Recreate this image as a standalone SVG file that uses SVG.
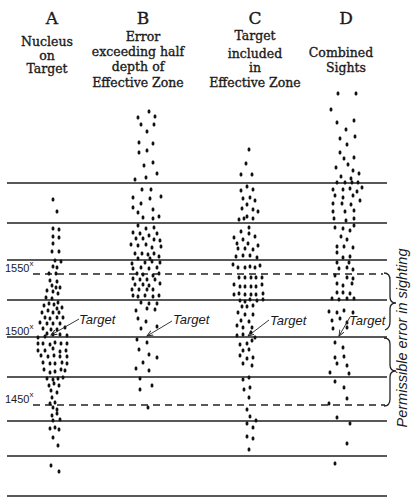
<svg xmlns="http://www.w3.org/2000/svg" width="415" height="500" viewBox="0 0 415 500">
<style>
.hd{font-family:"DejaVu Serif","Liberation Serif",serif;fill:#1a1a1a;stroke:#1a1a1a;stroke-width:0.35;text-anchor:middle}
.let{font-size:17px}
.cap{font-size:12.5px}
.num{font-family:"Liberation Sans",Arial,sans-serif;font-size:11px;fill:#1a1a1a}
.tg{font-family:"Liberation Sans",Arial,sans-serif;font-style:italic;font-size:13px;fill:#1a1a1a}
.ln{stroke:#222;stroke-width:1.3;fill:none}
.dl{stroke:#222;stroke-width:1.3;fill:none;stroke-dasharray:7 5}
.dots{stroke:#111;stroke-width:2.8;stroke-linecap:round;fill:none}
.ld{stroke:#222;stroke-width:0.9;fill:none}
</style>
<defs>
<marker id="ah" markerUnits="userSpaceOnUse" markerWidth="7" markerHeight="6" refX="6" refY="3" orient="auto"><path d="M0,0.5 L6,3 L0,5.5" fill="none" stroke="#222" stroke-width="0.9"/></marker>
</defs>
<rect width="415" height="500" fill="#fff"/>

<g id="headers">
<g id="head-A"><text class="hd let" x="52" y="24">A</text><text class="hd cap" x="47" y="46">Nucleus</text><text class="hd cap" x="47" y="59.5">on</text><text class="hd cap" x="47" y="73">Target</text></g>
<g id="head-B"><text class="hd let" x="143" y="24">B</text><text class="hd cap" x="143" y="41">Error</text><text class="hd cap" x="138" y="56">exceeding half</text><text class="hd cap" x="138" y="70.5">depth of</text><text class="hd cap" x="138" y="87">Effective Zone</text></g>
<g id="head-C"><text class="hd let" x="255" y="24">C</text><text class="hd cap" x="255" y="40">Target</text><text class="hd cap" x="255" y="57.5">included</text><text class="hd cap" x="255" y="72">in</text><text class="hd cap" x="255" y="87">Effective Zone</text></g>
<g id="head-D"><text class="hd let" x="346" y="24">D</text><text class="hd cap" x="341" y="57">Combined</text><text class="hd cap" x="346" y="72">Sights</text></g>
</g>

<g id="lines">
<path class="ln" d="M7 183H387M7 223H387M7 260H387M7 300H387M7 337H387M7 377H387M7 421H387M7 456H387M7 496H387"/>
<path class="dl" d="M33 274H383M33 405H385"/>
</g>

<g id="range-labels">
<text class="num" x="5" y="272">1550<tspan font-size="8" dy="-6">x</tspan></text>
<text class="num" x="5" y="335">1500<tspan font-size="8" dy="-6">x</tspan></text>
<text class="num" x="5" y="403">1450<tspan font-size="8" dy="-6">x</tspan></text>
</g>

<g id="column-A">
<path class="dots" d="M53 199v1.2M57 211v1.2M53 228v1.2M59 229v1.2M53 236v1.2M59 237v1.2M53 243v1.2M52 251v1.2M59 251v1.2M55 260v1.2M61 261v1.2M53 266v1.2M57 267v1.2M49 273v1.2M56 273v1.2M50 280v1.2M57 281v1.2M52 285v1.2M56 287v1.2M60 287v1.2M47 290v1.2M53 291v1.2M58 293v1.2M46 297v1.2M52 298v1.2M49 303v1.2M54 304v1.2M58 302v1.2M44 305v1.2M57 308v1.2M62 307v1.2M42 312v1.2M48 310v1.2M53 312v1.2M59 312v1.2M45 317v1.2M50 318v1.2M57 317v1.2M63 317v1.2M40 322v1.2M47 323v1.2M53 323v1.2M60 323v1.2M43 328v1.2M51 329v1.2M57 329v1.2M65 327v1.2M47 333v1.2M53 334v1.2M60 334v1.2M67 335v1.2M38 337v1.2M45 336v1.2M38 343v1.2M43 343v1.2M50 344v1.2M55 342v1.2M61 343v1.2M67 343v1.2M38 350v1.2M45 350v1.2M53 348v1.2M60 351v1.2M66 350v1.2M41 355v1.2M48 356v1.2M54 355v1.2M60 356v1.2M67 356v1.2M43 362v1.2M50 363v1.2M55 363v1.2M62 362v1.2M67 363v1.2M44 369v1.2M50 372v1.2M55 371v1.2M61 369v1.2M65 370v1.2M47 378v1.2M53 379v1.2M58 378v1.2M63 377v1.2M49 385v1.2M54 383v1.2M59 385v1.2M51 390v1.2M57 392v1.2M52 397v1.2M50 403v1.2M55 402v1.2M53 407v1.2M57 409v1.2M52 415v1.2M57 413v1.2M53 420v1.2M60 419v1.2M50 428v1.2M55 427v1.2M59 429v1.2M53 437v1.2M58 445v1.2M51 465v1.2M59 471v1.2"/>
</g>

<g id="column-B">
<path class="dots" d="M149 111v1.2M138 117v1.2M155 116v1.2M141 124v1.2M154 124v1.2M147 131v1.2M139 142v1.2M153 143v1.2M139 152v1.2M147 150v1.2M144 165v1.2M153 162v1.2M135 179v1.2M146 177v1.2M157 173v1.2M142 189v1.2M151 189v1.2M133 197v1.2M150 198v1.2M161 196v1.2M141 203v1.2M133 207v1.2M138 212v1.2M153 209v1.2M143 217v1.2M153 218v1.2M159 216v1.2M138 225v1.2M146 228v1.2M154 227v1.2M133 232v1.2M140 233v1.2M149 235v1.2M157 233v1.2M136 238v1.2M143 238v1.2M154 239v1.2M160 240v1.2M131 244v1.2M138 245v1.2M146 244v1.2M152 247v1.2M161 246v1.2M135 253v1.2M142 253v1.2M148 254v1.2M154 253v1.2M159 256v1.2M138 258v1.2M150 258v1.2M132 263v1.2M145 262v1.2M152 261v1.2M160 262v1.2M133 268v1.2M141 267v1.2M149 268v1.2M157 267v1.2M137 273v1.2M143 274v1.2M153 275v1.2M159 273v1.2M133 278v1.2M140 279v1.2M147 279v1.2M155 279v1.2M135 284v1.2M143 284v1.2M149 285v1.2M160 283v1.2M132 289v1.2M139 289v1.2M147 289v1.2M153 289v1.2M133 295v1.2M138 296v1.2M145 295v1.2M153 296v1.2M159 295v1.2M141 302v1.2M149 303v1.2M157 303v1.2M136 310v1.2M147 308v1.2M155 309v1.2M138 318v1.2M146 321v1.2M157 326v1.2M141 328v1.2M137 339v1.2M147 342v1.2M139 349v1.2M149 354v1.2M157 357v1.2M143 362v1.2M136 368v1.2M149 370v1.2M140 378v1.2M140 389v1.2M152 385v1.2M148 407v1.2"/>
</g>

<g id="column-C">
<path class="dots" d="M249 149v1.2M246 163v1.2M241 174v1.2M252 174v1.2M247 186v1.2M241 190v1.2M253 189v1.2M243 198v1.2M250 197v1.2M255 200v1.2M247 204v1.2M242 208v1.2M253 209v1.2M258 211v1.2M247 216v1.2M239 219v1.2M244 218v1.2M253 218v1.2M249 227v1.2M241 231v1.2M249 233v1.2M234 237v1.2M255 236v1.2M243 239v1.2M237 243v1.2M248 243v1.2M258 245v1.2M238 248v1.2M245 248v1.2M253 249v1.2M236 256v1.2M243 255v1.2M250 255v1.2M257 257v1.2M233 264v1.2M260 265v1.2M238 267v1.2M245 267v1.2M250 266v1.2M255 267v1.2M239 277v1.2M245 277v1.2M251 277v1.2M256 277v1.2M262 277v1.2M234 284v1.2M240 286v1.2M245 286v1.2M251 286v1.2M256 286v1.2M262 284v1.2M234 294v1.2M239 293v1.2M245 294v1.2M251 294v1.2M256 294v1.2M263 293v1.2M240 300v1.2M245 301v1.2M250 299v1.2M257 300v1.2M263 299v1.2M242 306v1.2M247 306v1.2M253 305v1.2M238 312v1.2M245 314v1.2M253 314v1.2M241 320v1.2M249 321v1.2M237 325v1.2M243 327v1.2M252 327v1.2M237 335v1.2M243 334v1.2M251 332v1.2M255 337v1.2M240 344v1.2M247 343v1.2M252 340v1.2M243 350v1.2M249 349v1.2M240 355v1.2M247 358v1.2M253 357v1.2M243 363v1.2M252 365v1.2M243 379v1.2M249 377v1.2M244 389v1.2M250 387v1.2M249 397v1.2M247 409v1.2M250 416v1.2M256 420v1.2M247 423v1.2M253 427v1.2M247 436v1.2M253 438v1.2M249 449v1.2"/>
</g>

<g id="column-D">
<path class="dots" d="M338 93v1.2M356 93v1.2M331 109v1.2M337 122v1.2M354 120v1.2M346 129v1.2M340 138v1.2M355 136v1.2M347 144v1.2M340 152v1.2M344 158v1.2M354 157v1.2M336 167v1.2M348 164v1.2M353 170v1.2M341 176v1.2M351 178v1.2M359 173v1.2M337 182v1.2M345 182v1.2M352 182v1.2M358 182v1.2M362 187v1.2M333 189v1.2M343 189v1.2M350 188v1.2M357 191v1.2M335 195v1.2M343 197v1.2M353 195v1.2M360 200v1.2M333 203v1.2M342 203v1.2M351 204v1.2M333 211v1.2M345 211v1.2M354 210v1.2M334 218v1.2M346 220v1.2M354 218v1.2M335 227v1.2M343 228v1.2M350 230v1.2M354 225v1.2M341 236v1.2M347 239v1.2M337 246v1.2M344 246v1.2M353 247v1.2M337 252v1.2M343 257v1.2M350 256v1.2M337 262v1.2M349 262v1.2M339 268v1.2M347 267v1.2M353 269v1.2M335 275v1.2M347 277v1.2M353 278v1.2M337 283v1.2M343 285v1.2M352 283v1.2M337 292v1.2M343 292v1.2M350 293v1.2M332 298v1.2M339 299v1.2M347 298v1.2M354 298v1.2M329 311v1.2M337 312v1.2M344 310v1.2M353 312v1.2M332 320v1.2M340 318v1.2M347 322v1.2M333 328v1.2M347 327v1.2M335 342v1.2M343 347v1.2M335 357v1.2M344 356v1.2M337 363v1.2M347 365v1.2M330 372v1.2M349 373v1.2M335 381v1.2M344 387v1.2M347 398v1.2M329 403v1.2M337 417v1.2M350 423v1.2M347 443v1.2M335 463v1.2"/>
</g>

<g id="target-labels">
<text class="tg" x="79" y="324">Target</text>
<text class="tg" x="173" y="324">Target</text>
<text class="tg" x="270" y="325">Target</text>
<text class="tg" x="349" y="325">Target</text>
</g>

<g id="connectors">
<path class="ld" marker-end="url(#ah)" d="M79 319L51 335"/>
<path class="ld" marker-end="url(#ah)" d="M172 321L147 336"/>
<path class="ld" marker-end="url(#ah)" d="M269 320L248 336"/>
<path class="ld" marker-end="url(#ah)" d="M350 317L339 336"/>
</g>

<g id="brace">
<path class="ln" d="M384 273Q390 273 390 280L390 297Q390 303 396 303Q390 303 390 309L390 322Q390 328 385 330"/>
<path class="ln" d="M384 338Q390 338 390 344L390 365Q390 371 396 371Q390 371 390 377L390 399Q390 406 384 406"/>
<text class="tg" style="font-size:14.5px" text-anchor="middle" transform="translate(407 338) rotate(-90)">Permissible error in sighting</text>
</g>
</svg>
